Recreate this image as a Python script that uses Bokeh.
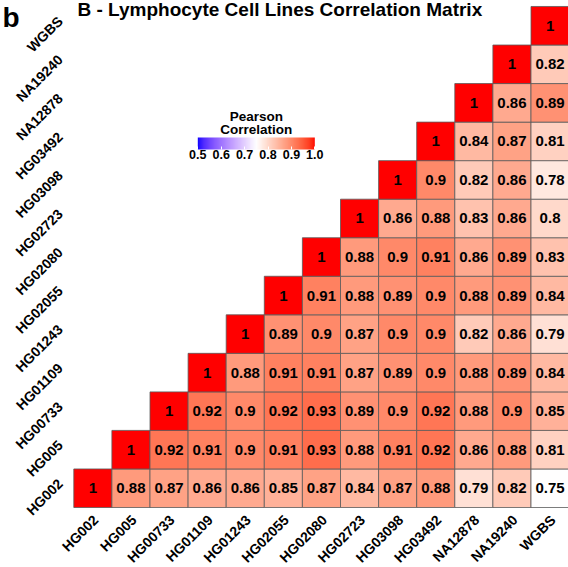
import numpy as np
from bokeh.plotting import figure
from bokeh.models import (ColumnDataSource, LinearColorMapper, ColorBar, FixedTicker,
                          Label, LabelSet, Range1d, PrintfTickFormatter)
from bokeh.transform import transform
from bokeh.embed import file_html
from bokeh.resources import INLINE
from bokeh.core.properties import value

# ---------------- data ----------------
samples = ["HG002", "HG005", "HG00733", "HG01109", "HG01243", "HG02055", "HG02080",
           "HG02723", "HG03098", "HG03492", "NA12878", "NA19240", "WGBS"]

# row i holds the correlations of samples[i] with samples[i], samples[i+1], ... samples[12]
r_HG002 = [1, 0.88, 0.87, 0.86, 0.86, 0.85, 0.87, 0.84, 0.87, 0.88, 0.79, 0.82, 0.75]
r_HG005 = [1, 0.92, 0.91, 0.9, 0.91, 0.93, 0.88, 0.91, 0.92, 0.86, 0.88, 0.81]
r_HG00733 = [1, 0.92, 0.9, 0.92, 0.93, 0.89, 0.9, 0.92, 0.88, 0.9, 0.85]
r_HG01109 = [1, 0.88, 0.91, 0.91, 0.87, 0.89, 0.9, 0.88, 0.89, 0.84]
r_HG01243 = [1, 0.89, 0.9, 0.87, 0.9, 0.9, 0.82, 0.86, 0.79]
r_HG02055 = [1, 0.91, 0.88, 0.89, 0.9, 0.88, 0.89, 0.84]
r_HG02080 = [1, 0.88, 0.9, 0.91, 0.86, 0.89, 0.83]
r_HG02723 = [1, 0.86, 0.88, 0.83, 0.86, 0.8]
r_HG03098 = [1, 0.9, 0.82, 0.86, 0.78]
r_HG03492 = [1, 0.84, 0.87, 0.81]
r_NA12878 = [1, 0.86, 0.89]
r_NA19240 = [1, 0.82]
r_WGBS = [1]

rows = [r_HG002, r_HG005, r_HG00733, r_HG01109, r_HG01243, r_HG02055, r_HG02080,
        r_HG02723, r_HG03098, r_HG03492, r_NA12878, r_NA19240, r_WGBS]

legend_ticks = [0.5, 0.6, 0.7, 0.8, 0.9, 1.0]
legend_title = ["Pearson", "Correlation"]
title_text = "B - Lymphocyte Cell Lines Correlation Matrix"
panel_tag = "b"

FONT = "Liberation Sans"

# ---------------- colour scale (blue - white - red, Lab interpolation) ----------------
def _lin(c):
    c = c / 255.0
    return c / 12.92 if c <= 0.04045 else ((c + 0.055) / 1.055) ** 2.4

def _rgb2lab(rgb):
    r, g, b = (_lin(c) for c in rgb)
    X = (0.4124 * r + 0.3576 * g + 0.1805 * b) / 0.95047
    Y = (0.2126 * r + 0.7152 * g + 0.0722 * b)
    Z = (0.0193 * r + 0.1192 * g + 0.9505 * b) / 1.08883
    f = lambda t: t ** (1 / 3) if t > 0.008856 else 7.787 * t + 16 / 116
    fx, fy, fz = f(X), f(Y), f(Z)
    return (116 * fy - 16, 500 * (fx - fy), 200 * (fy - fz))

def _lab2hex(L, a, b):
    fy = (L + 16) / 116
    fx = fy + a / 500
    fz = fy - b / 200
    fi = lambda t: t ** 3 if t ** 3 > 0.008856 else (t - 16 / 116) / 7.787
    X, Y, Z = 0.95047 * fi(fx), fi(fy), 1.08883 * fi(fz)
    r = 3.2406 * X - 1.5372 * Y - 0.4986 * Z
    g = -0.9689 * X + 1.8758 * Y + 0.0415 * Z
    bb = 0.0557 * X - 0.2040 * Y + 1.0570 * Z
    def gam(c):
        c = min(max(c, 0.0), 1.0)
        c = 12.92 * c if c <= 0.0031308 else 1.055 * c ** (1 / 2.4) - 0.055
        return int(round(c * 255))
    return "#%02x%02x%02x" % (gam(r), gam(g), gam(bb))

low_c, mid_c, high_c = _rgb2lab((0, 0, 255)), _rgb2lab((255, 255, 255)), _rgb2lab((255, 0, 0))
palette = []
for k in range(256):
    t = k / 255.0
    if t < 0.5:
        s = t / 0.5
        lab = [low_c[i] + (mid_c[i] - low_c[i]) * s for i in range(3)]
    else:
        s = (t - 0.5) / 0.5
        lab = [mid_c[i] + (high_c[i] - mid_c[i]) * s for i in range(3)]
    palette.append(_lab2hex(*lab))

mapper = LinearColorMapper(palette=palette, low=0.5, high=1.0)

# ---------------- table (cell centres from the sample order) ----------------
n = len(samples)
xs, ys, vals, labels = [], [], [], []
for i, row in enumerate(rows):
    for k, v in enumerate(row):
        xs.append(i + k + 0.5)
        ys.append(i + 0.5)
        vals.append(v)
        labels.append(("%.2f" % v).rstrip("0").rstrip("."))
src = ColumnDataSource(dict(x=xs, y=ys, val=vals, label=labels))

# ---------------- figure ----------------
W, H = 568, 567
GRID_L, CELL_W = 73.3, 38.1        # grid left edge and column width (px)
GRID_B, CELL_H = 507.0, 38.54      # grid bottom edge and row height (px)
x_range = Range1d(-GRID_L / CELL_W, (W - GRID_L) / CELL_W)
y_range = Range1d(-(H - GRID_B) / CELL_H, GRID_B / CELL_H)

p = figure(x_range=x_range, y_range=y_range, width=W, height=H,
           output_backend="svg", toolbar_location=None,
           min_border_left=0, min_border_right=0, min_border_top=0, min_border_bottom=0)
p.axis.visible = False
p.grid.grid_line_color = None
p.outline_line_color = None
p.background_fill_color = "white"
p.border_fill_color = "white"

p.rect(x="x", y="y", width=1, height=1, source=src,
       fill_color=transform("val", mapper), line_color="#5a5a5a", line_width=0.8)
p.text(x="x", y="y", text="label", source=src, text_font=value(FONT),
       text_font_style="bold", text_font_size="15px", text_align="center",
       text_baseline="middle", text_color="black")

# category labels, rotated 45 degrees, along the bottom and left of the grid
pos = [i + 0.5 for i in range(n)]
tick_src = ColumnDataSource(dict(name=samples, pos=pos, zero=[0] * n))
xl = LabelSet(x="pos", y="zero", text="name", source=tick_src, angle=np.pi / 4,
              x_offset=3, y_offset=-10, text_align="right",
              text_baseline="middle", text_font=value(FONT),
              text_font_style="bold", text_font_size="14px", text_color="black")
yl = LabelSet(x="zero", y="pos", text="name", source=tick_src, angle=np.pi / 4,
              x_offset=-13.5, y_offset=7, text_align="right",
              text_baseline="middle", text_font=value(FONT),
              text_font_style="bold", text_font_size="14px", text_color="black")
p.add_layout(xl)
p.add_layout(yl)

# colour legend
cb = ColorBar(color_mapper=mapper, orientation="horizontal", location=(197.3, H - 161),
              width=117, height=12, padding=0, title=None,
              ticker=FixedTicker(ticks=legend_ticks), formatter=PrintfTickFormatter(format="%.1f"),
              major_label_text_font=FONT, major_label_text_font_style="bold",
              major_label_text_font_size="12.5px", major_label_text_color="black",
              major_tick_line_color="white", major_tick_in=3, major_tick_out=0,
              label_standoff=0, background_fill_alpha=0, border_line_color=None,
              bar_line_color=None)
p.add_layout(cb)

for txt, yb in zip(legend_title, (H - 116.2, H - 128.8)):
    p.add_layout(Label(x=255.8, y=yb, x_units="screen", y_units="screen", text=txt,
                       text_align="center", text_baseline="alphabetic",
                       text_font=FONT, text_font_style="bold",
                       text_font_size="13.5px", text_color="black"))

# chart title and panel tag
p.add_layout(Label(x=77, y=H - 8.5, x_units="screen", y_units="screen", text=title_text,
                   text_align="left", text_baseline="alphabetic",
                   text_font=FONT, text_font_style="bold",
                   text_font_size="19px", text_color="black"))
p.add_layout(Label(x=2, y=H - 1, x_units="screen", y_units="screen", text=panel_tag,
                   text_align="left", text_baseline="top",
                   text_font=FONT, text_font_style="bold",
                   text_font_size="28px", text_color="black"))

open("out.html", "w").write(file_html(p, INLINE))
